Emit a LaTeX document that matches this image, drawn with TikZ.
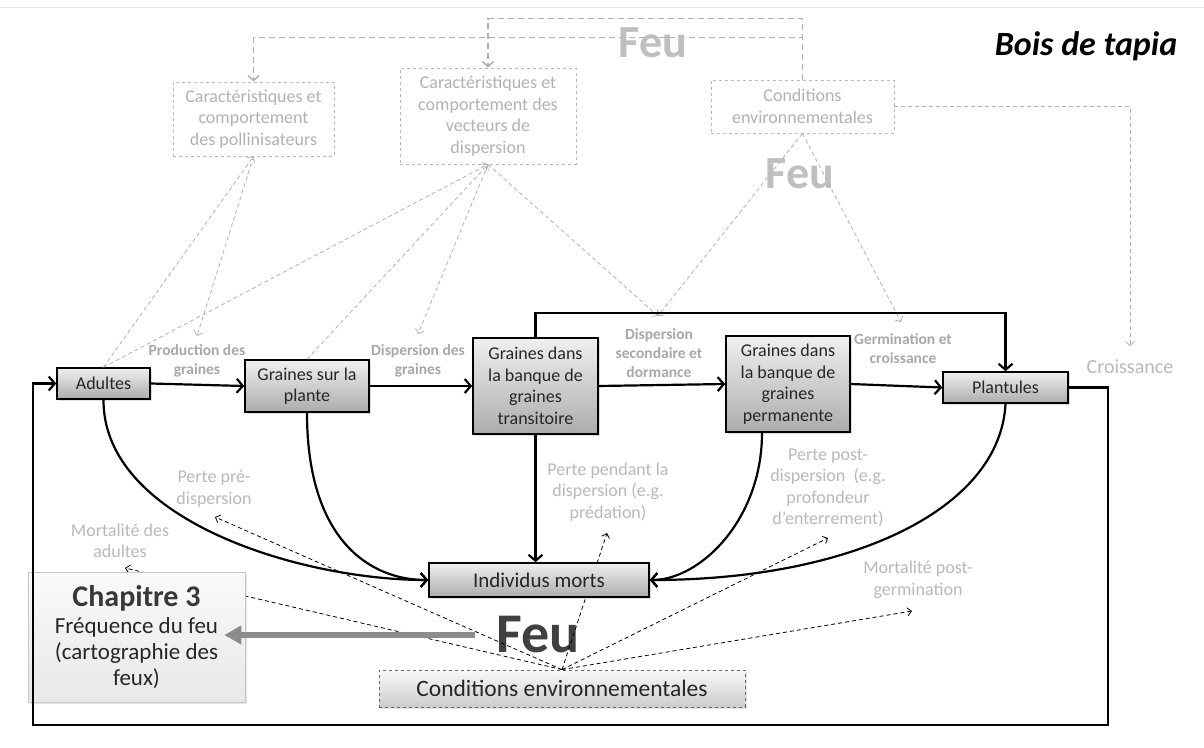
\documentclass[tikz,border=0pt]{standalone}
\usepackage{fontspec}
\setmainfont{Carlito}
\usetikzlibrary{arrows.meta,shadows,calc}
\begin{document}
\begin{tikzpicture}[x=1pt,y=-1pt,
  mbox/.style={draw=black, line width=1.6pt, top color=gray!12, bottom color=gray!65,
    drop shadow={opacity=0.25, shadow xshift=1.5pt, shadow yshift=-1.5pt},
    align=center, inner sep=0pt, text=black!85, font=\fontsize{18}{21.5}\selectfont},
  gbox/.style={draw=gray!55, dashed, line width=0.8pt, align=center, inner sep=0pt,
    text=gray!60, font=\fontsize{18}{21.5}\selectfont},
  lab/.style={text=gray!68, font=\bfseries\fontsize{15.5}{19}\selectfont, align=center, inner sep=0pt},
  loss/.style={text=gray!55, font=\fontsize{18}{21.5}\selectfont, align=center, inner sep=0pt},
  feu/.style={font=\bfseries\fontsize{46}{46}\selectfont, text=gray!50, inner sep=0pt},
  gline/.style={draw=gray!60, dash pattern=on 4pt off 3pt, line width=0.8pt,
    -{Straight Barb[length=4pt,width=9pt]}},
  gtop/.style={draw=gray!62, dash pattern=on 6pt off 4pt, line width=1.5pt,
    -{Straight Barb[length=5pt,width=11pt]}},
  kline/.style={draw=black, dash pattern=on 4pt off 3pt, line width=0.8pt,
    -{Straight Barb[length=4pt,width=8pt]}},
  thk/.style={draw=black, line width=2.2pt, -{Straight Barb[length=6pt,width=14pt]}}
]
\useasboundingbox (0,0) rectangle (1204,747);
\fill[white] (0,0) rectangle (1204,747);
\draw[gray!20, line width=0.8pt] (0,7) -- (1204,7);

% ---------- top (grey) boxes ----------
\node[gbox, minimum width=161pt, minimum height=74pt] (poll) at (253.5,119)
  {Caractéristiques et\\comportement\\des pollinisateurs};
\node[gbox, minimum width=176pt, minimum height=96pt] (vect) at (488,116)
  {Caractéristiques et\\comportement des\\vecteurs de\\dispersion};
\node[gbox, minimum width=183pt, minimum height=53pt] (envT) at (802.5,106.5)
  {Conditions\\environnementales};

% routed influences of fire (top)
\draw[gtop] (envT.north) -- ++(0,-61) -| (vect.north);
\draw[gtop] (envT.north) -- ++(0,-42) -| (poll.north);

\node[feu] (feuT) at (653,43) {Feu};
\node[feu] (feuM) at (800,174) {Feu};
\node[font=\bfseries\itshape\fontsize{34}{34}\selectfont, inner sep=0pt] (title) at (1086,46) {Bois de tapia};

% labels
\node[lab] (prod) at (197,361) {Production des\\graines};
\node[lab] (disp) at (418,361) {Dispersion des\\graines};
\node[lab] (dsec) at (659,353) {Dispersion\\secondaire et\\dormance};
\node[lab] (germ) at (903,349) {Germination et\\croissance};
\node[text=gray!55, font=\fontsize{20}{20}\selectfont, inner sep=0pt] (croiss) at (1130,367) {Croissance};

\coordinate (tipProd) at (197,336);
\coordinate (tipDisp) at (418,334);
\coordinate (tipDsec) at (658,316);
\coordinate (tipGerm) at (901,322);
\coordinate (tipCroiss) at (1130,346);

% ---------- main boxes ----------
\node[mbox, minimum width=93pt, minimum height=31pt] (adult) at (103.5,383.5) {Adultes};
\node[mbox, minimum width=124pt, minimum height=52pt] (gsp) at (307,386) {Graines sur la\\plante};
\node[mbox, minimum width=125pt, minimum height=96pt] (trans) at (535.5,386)
  {Graines dans\\la banque de\\graines\\transitoire};
\node[mbox, minimum width=124pt, minimum height=96pt] (perm) at (788,384)
  {Graines dans\\la banque de\\graines\\permanente};
\node[mbox, minimum width=125pt, minimum height=31pt] (plant) at (1005.5,387.5) {Plantules};

% grey dashed influences
\draw[gline] (envT.east) -| (tipCroiss);
\draw[gline] (adult.north) -- (poll.south);
\draw[gline] (poll.south) -- (tipProd);
\draw[gline] (adult.north) -- (vect.south);
\draw[gline] (gsp.north) -- (vect.south);
\draw[gline] (vect.south) -- (tipDisp);
\draw[gline] (vect.south) -- (tipDsec);
\draw[gline] (envT.south) -- (tipDsec);
\draw[gline] (envT.south) -- (tipGerm);

% ---------- lower part ----------
\node[loss] (lPre) at (214,489) {Perte pré-\\dispersion};
\node[loss] (lMortA) at (120,541) {Mortalité des\\adultes};
\node[loss] (lPend) at (608,492) {Perte pendant la\\dispersion (e.g.\\prédation)};
\node[loss] (lPost) at (828,488) {Perte post-\\dispersion\ \ (e.g.\\profondeur\\d’enterrement)};
\node[loss] (lGerm) at (918,580) {Mortalité post-\\germination};

\coordinate (tipPre) at (215,517);
\coordinate (tipMortA) at (125,568);
\coordinate (tipPend) at (607,533);
\coordinate (tipPost) at (828,538);
\coordinate (tipGermB) at (912,611);

\node[font=\bfseries\fontsize{56}{56}\selectfont, text=black!75, inner sep=0pt] (feuB) at (538,635) {Feu};

\node[draw=black!60, dashed, line width=0.8pt, top color=gray!5, bottom color=gray!40,
  drop shadow={opacity=0.2, shadow xshift=1.5pt, shadow yshift=-1.5pt},
  minimum width=366pt, minimum height=37pt, inner sep=0pt, text=black!85,
  font=\fontsize{23.5}{23.5}\selectfont] (envB) at (562,688.5) {Conditions environnementales};

\draw[kline] (envB.north) -- (tipPre);
\draw[kline] (envB.north) -- (tipMortA);
\draw[kline] (envB.north) -- (tipPend);
\draw[kline] (envB.north) -- (tipPost);
\draw[kline] (envB.north) -- (tipGermB);

\node[mbox, minimum width=220pt, minimum height=34pt, font=\fontsize{21}{21}\selectfont] (morts) at (539,580) {Individus morts};

\node[draw=gray!45, line width=0.6pt, top color=gray!4, bottom color=gray!18,
  drop shadow={opacity=0.2, shadow xshift=1.5pt, shadow yshift=-1.5pt},
  minimum width=217pt, minimum height=130pt, inner sep=0pt, align=center, text=black!85,
  font=\fontsize{23}{26}\selectfont] (chap) at (136.5,637)
  {{\bfseries\color{black!78}\fontsize{30}{32}\selectfont Chapitre 3}\\[1pt]Fréquence du feu\\(cartographie des\\feux)};

\draw[line width=6pt, draw=gray!90, -{Triangle[length=17pt,width=18pt]}]
  ([xshift=-21pt]feuB.west) -- ([xshift=-21pt]feuB.west -| chap.east);

% ---------- black flows ----------
\draw[thk] (adult.east) -- (gsp.west);
\draw[thk] (gsp.east) -- (trans.west);
\draw[thk] (trans.east) -- (perm.west);
\draw[thk] (perm.east) -- (plant.west);
\draw[thk] (trans.north) -- ++(0,-24) -| (plant.north);

\coordinate (loopBR) at (1108,725);
\coordinate (loopBL) at (33,725);
\draw[thk] (plant.east) -| (loopBR) -- (loopBL) |- (adult.west);

\draw[thk] (adult.south) .. controls (103,520) and (300,580) .. (morts.west);
\draw[thk] (gsp.south) .. controls (307,540) and (370,580) .. (morts.west);
\draw[thk] (trans.south) -- (trans.south |- morts.north);
\draw[thk] ([xshift=-26pt]perm.south) .. controls (762,520) and (700,580) .. (morts.east);
\draw[thk] (plant.south) .. controls (1000,510) and (850,580) .. (morts.east);
\end{tikzpicture}
\end{document}
